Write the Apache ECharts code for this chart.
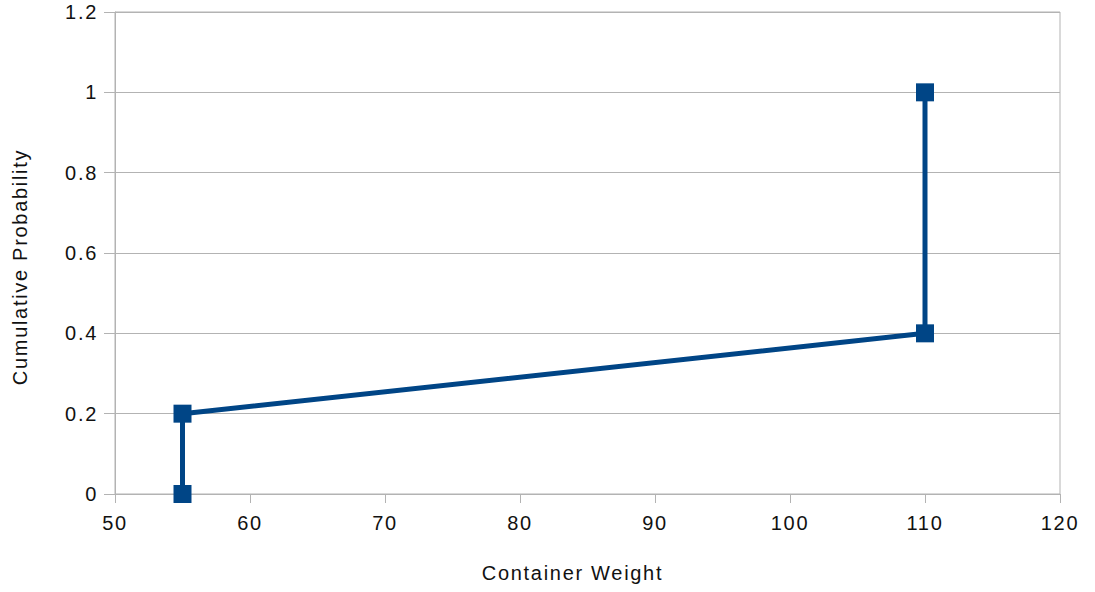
<!DOCTYPE html>
<html><head><meta charset="utf-8">
<script src="https://cdn.jsdelivr.net/npm/echarts@6/dist/echarts.min.js"></script>
<style>html,body{margin:0;padding:0;background:#fff}#c{width:1095px;height:592px}#c text{letter-spacing:1.7px}</style>
</head><body><div id="c"></div>
<script>
const weights = [55, 55, 110, 110];
const cumProb = [0, 0.2, 0.4, 1];
const xTicks = {min: 50, max: 120, interval: 10};
const yTicks = {min: 0, max: 1.2, interval: 0.2};

const chart = echarts.init(document.getElementById('c'), null, {renderer: 'svg'});
const font = 'Liberation Sans, Arial, sans-serif';
chart.setOption({
  animation: false,
  grid: {left: 115, right: 35, top: 12, bottom: 98, show: true, borderColor: '#b3b3b3', borderWidth: 1},
  xAxis: {
    type: 'value', min: xTicks.min, max: xTicks.max, interval: xTicks.interval,
    name: 'Container Weight', nameLocation: 'middle', nameGap: 69,
    nameTextStyle: {fontFamily: font, fontSize: 20, color: '#111', padding: [0, 30, 0, 0]},
    axisLine: {show: true, lineStyle: {color: '#b3b3b3'}},
    axisTick: {show: true, length: 9, lineStyle: {color: '#b3b3b3'}},
    axisLabel: {fontFamily: font, fontSize: 20, color: '#111', margin: 19},
    splitLine: {show: false}
  },
  yAxis: {
    type: 'value', min: yTicks.min, max: yTicks.max, interval: yTicks.interval,
    name: 'Cumulative Probability', nameLocation: 'middle', nameGap: 85,
    nameTextStyle: {fontFamily: font, fontSize: 20, color: '#111', padding: [0, 28, 0, 0]},
    axisLine: {show: true, lineStyle: {color: '#b3b3b3'}},
    axisTick: {show: true, length: 11, lineStyle: {color: '#b3b3b3'}},
    axisLabel: {fontFamily: font, fontSize: 20, color: '#111', margin: 17},
    splitLine: {show: true, lineStyle: {color: '#b3b3b3', width: 1}}
  },
  series: [{
    type: 'line',
    data: weights.map((w, i) => [w, cumProb[i]]),
    symbol: 'rect', symbolSize: 18,
    lineStyle: {color: '#004586', width: 5},
    itemStyle: {color: '#004586'}
  }]
});
</script></body></html>
